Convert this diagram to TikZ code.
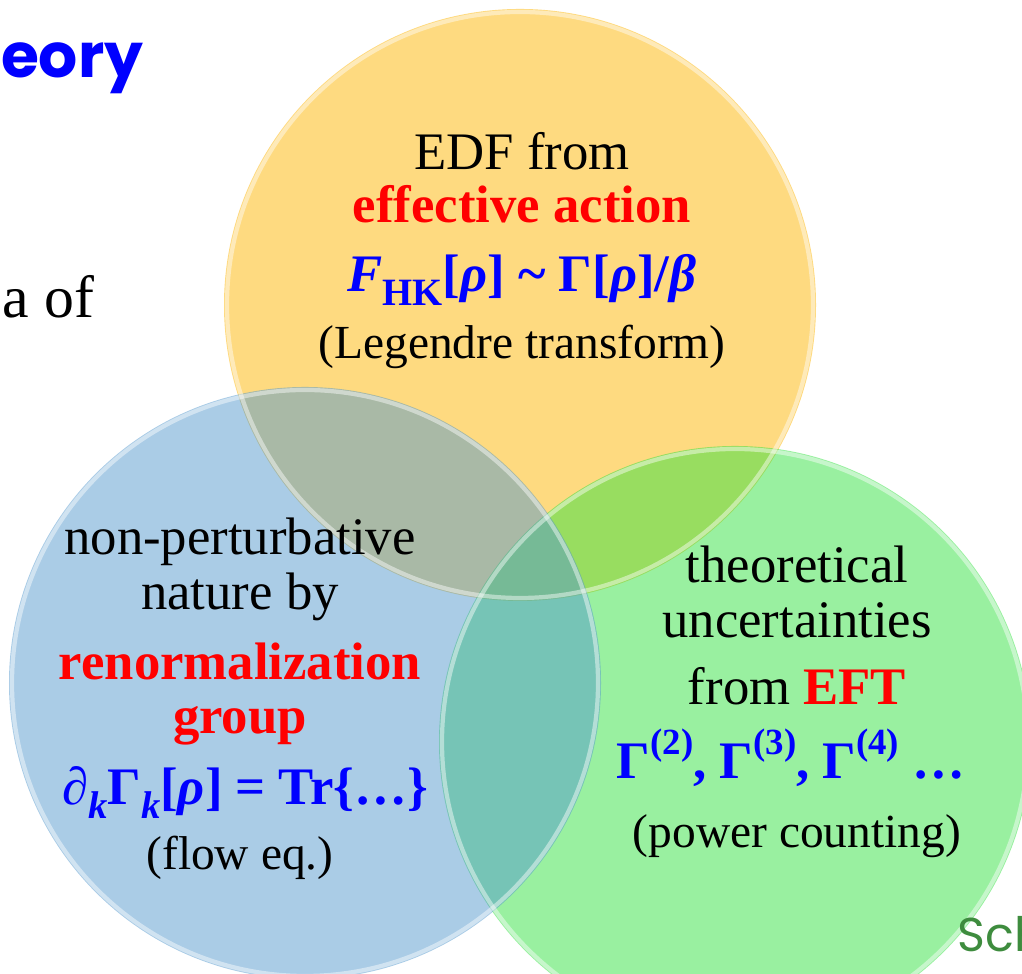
\documentclass[tikz,border=0pt]{standalone}
\usepackage{fontspec}
\setmainfont{Liberation Serif}
\newfontfamily\comicfont{Poppins}
\usepackage{xcolor}
\usepackage{tikz}

\definecolor{edfyellow}{RGB}{254,218,128}
\definecolor{frgblue}{RGB}{85,153,205}
\definecolor{eftgreen}{RGB}{51,225,65}
\definecolor{signgreen}{RGB}{62,140,62}

% lowered index and raised order, as on the slide
\newcommand{\lowidx}[1]{\raisebox{-0.55ex}{\fontsize{11}{11}\selectfont #1}}
\newcommand{\upidx}[1]{\raisebox{1.0ex}{\fontsize{10.5}{11}\selectfont #1}}

\begin{document}
\begin{tikzpicture}[
    rim/.style={draw=white, draw opacity=0.45, line width=1.2pt},
    txt/.style={anchor=base, font=\fontsize{15}{18}\selectfont},
    keyword/.style={anchor=base, text=red, font=\fontsize{15}{18}\selectfont\bfseries},
    formula/.style={anchor=base, text=blue, font=\fontsize{15}{18}\selectfont\bfseries},
    paren/.style={anchor=base, font=\fontsize{13.5}{16}\selectfont}
]
    \useasboundingbox (0,0) rectangle (10.22,9.74);

    % Circles: yellow first, green and blue see-through on top
    \fill[edfyellow] (5.20,6.69) circle (2.96);
    \fill[eftgreen, fill opacity=0.5] (7.35,2.32) circle (2.96);
    \fill[frgblue, fill opacity=0.5] (3.05,2.91) circle (2.96);
    \foreach \x/\y in {5.20/6.69, 7.35/2.32, 3.05/2.91}
        \draw[rim] (\x,\y) circle (2.93);

    % Top circle
    \node[txt] (edf) at (5.22,8.04) {EDF from};
    \node[keyword] (action) at (5.22,7.51) {effective action};
    \node[formula] (hk) at (5.22,6.82) {\textit{F}\lowidx{HK}[\textit{ρ}] \textasciitilde{} Γ[\textit{ρ}]/\textit{β}};
    \node[paren] (legendre) at (5.22,6.15) {(Legendre transform)};

    % Left circle
    \node[txt] (nonpert) at (2.40,4.19) {non-perturbative};
    \node[txt] (nature) at (2.40,3.64) {nature by};
    \node[keyword] (renorm) at (2.40,2.94) {renormalization};
    \node[keyword] (group) at (2.40,2.40) {group};
    \node[formula] (flow) at (2.45,1.69) {\textit{∂}\lowidx{\textit{k}}Γ\lowidx{\textit{k}}[\textit{ρ}] = Tr\{…\}};
    \node[paren] (floweq) at (2.40,1.04) {(flow eq.)};

    % Right circle
    \node[txt] (theo) at (7.97,3.91) {theoretical};
    \node[txt] (uncert) at (7.97,3.36) {uncertainties};
    \node[txt] (from) at (7.97,2.69) {from \textcolor{red}{\bfseries EFT}};
    \node[formula] (vertex) at (7.91,1.95) {Γ\upidx{(2)}, Γ\upidx{(3)}, Γ\upidx{(4)} …};
    \node[paren] (counting) at (7.97,1.26) {(power counting)};

    % Slide text cut at the edges
    \node[anchor=base east, inner sep=0pt, text=blue, font=\comicfont\bfseries\fontsize{17.5}{20}\selectfont] (title) at (1.44,8.96) {Theory};
    \node[anchor=base west, inner sep=0pt, font=\fontsize{17}{20}\selectfont] (idea) at (0.02,6.56) {a of};
    \node[anchor=base west, inner sep=0pt, text=signgreen, font=\comicfont\fontsize{13.5}{16}\selectfont] (sign) at (9.57,0.22) {Sch};
\end{tikzpicture}
\end{document}
